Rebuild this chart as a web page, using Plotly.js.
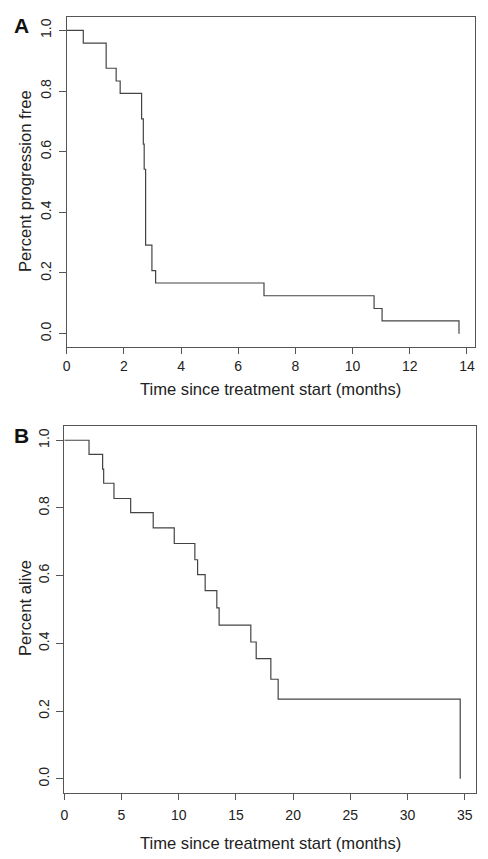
<!DOCTYPE html>
<html>
<head>
<meta charset="utf-8">
<script src="https://cdn.plot.ly/plotly-3.0.1.min.js"></script>
<style>html,body{margin:0;padding:0;background:#fff;}#chart{width:488px;height:859px;}</style>
</head>
<body>
<div id="chart"></div>
<script>
// Panel A: progression-free survival (Kaplan-Meier)
var pfsTime = [0, 0.58, 1.38, 1.73, 1.87, 2.62, 2.68, 2.71, 2.76, 2.98, 3.11, 6.90, 10.75, 11.03, 13.72];
var pfsSurv = [1.0, 0.958, 0.875, 0.833, 0.792, 0.708, 0.625, 0.542, 0.292, 0.208, 0.167, 0.125, 0.083, 0.042, 0.0];
// Panel B: overall survival (Kaplan-Meier)
var osTime = [0, 2.16, 3.35, 3.44, 4.34, 5.80, 7.77, 9.61, 11.41, 11.65, 12.31, 13.33, 13.53, 16.30, 16.77, 18.05, 18.69, 34.6];
var osSurv = [1.0, 0.958, 0.915, 0.873, 0.828, 0.786, 0.741, 0.695, 0.647, 0.603, 0.556, 0.505, 0.454, 0.404, 0.355, 0.294, 0.235, 0.0];
var yTickVals = [0, 0.2, 0.4, 0.6, 0.8, 1.0];
var yTickText = ['0.0', '0.2', '0.4', '0.6', '0.8', '1.0'];
var xTitle = 'Time since treatment start (months)';
var yTitleA = 'Percent progression free';
var yTitleB = 'Percent alive';
var panelLabels = ['A', 'B'];

var W = 488, H = 859;
var FONT = 'Liberation Sans, Arial, sans-serif';
var lineCol = '#555';
var titleFont = {family: FONT, size: 16.6, color: '#222'};

function xAxis(domain, range, dtick, anchor, standoff) {
  return {
    domain: domain, range: range, dtick: dtick, tick0: 0, anchor: anchor,
    showline: true, mirror: true, linecolor: lineCol, linewidth: 1,
    ticks: 'outside', ticklen: 6, tickcolor: lineCol, tickwidth: 1,
    ticklabelstandoff: standoff,
    showgrid: false, zeroline: false, automargin: false,
    tickfont: {family: FONT, size: 14, color: '#222'}
  };
}
function yAxis(domain, anchor) {
  return {
    domain: domain, range: [-0.043, 1.043], anchor: anchor,
    tickvals: yTickVals, ticktext: yTickText, tickangle: -90,
    showline: true, mirror: true, linecolor: lineCol, linewidth: 1,
    ticks: 'outside', ticklen: 7, tickcolor: lineCol, tickwidth: 1,
    ticklabelstandoff: 2,
    showgrid: false, zeroline: false, automargin: false,
    tickfont: {family: FONT, size: 14, color: '#222'}
  };
}

var traces = [
  {x: pfsTime, y: pfsSurv, type: 'scatter', mode: 'lines', line: {shape: 'hv', color: '#444', width: 1.2}, xaxis: 'x', yaxis: 'y', hoverinfo: 'skip'},
  {x: osTime, y: osSurv, type: 'scatter', mode: 'lines', line: {shape: 'hv', color: '#444', width: 1.2}, xaxis: 'x2', yaxis: 'y2', hoverinfo: 'skip'}
];

function pa(text, xpx, ypx, extra) {
  var a = {text: text, xref: 'paper', yref: 'paper', x: xpx / W, y: (H - ypx) / H,
    xanchor: 'center', yanchor: 'middle', showarrow: false, font: titleFont};
  for (var k in extra) a[k] = extra[k];
  return a;
}

var layout = {
  width: W, height: H,
  margin: {l: 0, r: 0, t: 0, b: 0},
  paper_bgcolor: '#fff', plot_bgcolor: '#fff',
  showlegend: false,
  xaxis: xAxis([66.7 / W, 475 / W], [0, 14.28], 2, 'y', 0),
  yaxis: yAxis([(H - 346.7) / H, (H - 17.3) / H], 'x'),
  xaxis2: xAxis([64.3 / W, 476 / W], [0, 35.98], 5, 'y2', 3),
  yaxis2: yAxis([(H - 793.3) / H, (H - 425.7) / H], 'x2'),
  annotations: [
    pa(xTitle, 270, 390, {}),
    pa(xTitle, 270, 843, {}),
    pa(yTitleA, 25, 181, {textangle: -90}),
    pa(yTitleB, 25, 608, {textangle: -90}),
    pa('<b>' + panelLabels[0] + '</b>', 21, 25.5, {font: {family: FONT, size: 21, color: '#111'}}),
    pa('<b>' + panelLabels[1] + '</b>', 21, 435.5, {font: {family: FONT, size: 21, color: '#111'}})
  ]
};

Plotly.newPlot('chart', traces, layout, {displayModeBar: false, staticPlot: true});
</script>
</body>
</html>
